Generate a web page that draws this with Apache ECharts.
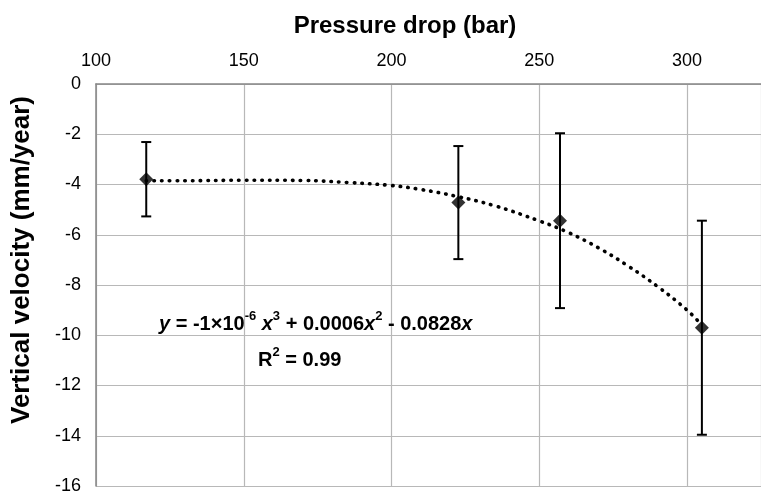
<!DOCTYPE html>
<html><head><meta charset="utf-8">
<script src="https://cdn.jsdelivr.net/npm/echarts@6/dist/echarts.min.js"></script>
<style>html,body{margin:0;padding:0;background:#fff}#c{width:761px;height:495px}</style>
</head><body><div id="c"></div>
<script>
// Measured points (Pressure drop, bar) vs (Vertical velocity, mm/year)
const pressure = [117, 222.6, 257, 305];
const velocity = [-3.79, -4.72, -5.44, -9.70];
const errorHalf = [1.48, 2.25, 3.48, 4.26];
// Dotted trendline
const trendX = [117, 130, 150, 170, 185, 200, 210, 222, 235, 250, 260, 270, 280, 290, 300, 305];
const trendY = [-3.85, -3.85, -3.83, -3.84, -3.92, -4.04, -4.2, -4.47, -4.85, -5.45, -5.92, -6.52, -7.24, -8.06, -9.0, -9.6];
const xTitle = 'Pressure drop (bar)';
const yTitle = 'Vertical velocity (mm/year)';
const eqText = '{i|y}{n| = -1×10}{s|-6}{n| }{i|x}{s|3}{n| + 0.0006}{i|x}{s|2}{n| - 0.0828}{i|x}';
const r2Text = '{n|R}{s|2}{n| = 0.99}';

const FF = '"Liberation Sans", Arial, sans-serif';
const chart = echarts.init(document.getElementById('c'), null, {renderer: 'canvas'});

const points = pressure.map((x, i) => [x, velocity[i]]);
const errData = pressure.map((x, i) => [x, velocity[i] - errorHalf[i], velocity[i] + errorHalf[i]]);
const trend = trendX.map((x, i) => [x, trendY[i]]);

const richStyle = {
  i: {fontStyle: 'italic', fontWeight: 'bold', fontSize: 20, fontFamily: FF, fill: '#000', verticalAlign: 'bottom', lineHeight: 24},
  s: {fontWeight: 'bold', fontSize: 13, fontFamily: FF, fill: '#000', verticalAlign: 'top', lineHeight: 24},
  n: {fontWeight: 'bold', fontSize: 20, fontFamily: FF, fill: '#000', verticalAlign: 'bottom', lineHeight: 24}
};

chart.setOption({
  animation: false,
  backgroundColor: '#fff',
  grid: {left: 96, top: 84, right: -10, bottom: 7.5, containLabel: false},
  xAxis: {
    type: 'value', position: 'top', min: 100, max: 325, interval: 50,
    axisLine: {show: true, onZero: false, lineStyle: {color: '#868686', width: 1.5}},
    axisTick: {show: false},
    axisLabel: {fontSize: 18, color: '#000', fontFamily: FF, margin: 14, showMaxLabel: false},
    splitLine: {show: true, lineStyle: {color: '#b8b8b8', width: 1.2}}
  },
  yAxis: {
    type: 'value', min: -16, max: 0, interval: 2,
    axisLine: {show: true, onZero: false, lineStyle: {color: '#868686', width: 1.5}},
    axisTick: {show: false},
    axisLabel: {fontSize: 18, color: '#000', fontFamily: FF, margin: 15},
    splitLine: {show: true, lineStyle: {color: '#b8b8b8', width: 1.2}}
  },
  graphic: [
    {type: 'text', x: 405, y: 26, style: {text: xTitle, font: 'bold 24px ' + FF, fill: '#000', align: 'center', verticalAlign: 'middle'}},
    {type: 'text', x: 22, y: 260, rotation: Math.PI / 2, style: {text: yTitle, font: 'bold 26px ' + FF, fill: '#000', align: 'center', verticalAlign: 'middle'}},
    {type: 'text', x: 159, y: 322, z: 100, style: {text: eqText, rich: richStyle, font: 'bold 20px ' + FF, fill: '#000', align: 'left', verticalAlign: 'middle'}},
    {type: 'text', x: 258, y: 358, z: 100, style: {text: r2Text, rich: richStyle, font: 'bold 20px ' + FF, fill: '#000', align: 'left', verticalAlign: 'middle'}}
  ],
  series: [
    {
      type: 'line', data: trend, smooth: 0.4, showSymbol: false, silent: true, z: 2,
      lineStyle: {color: '#000', width: 3.6, type: [0.5, 7.2], cap: 'round'}
    },
    {
      type: 'custom', data: errData, z: 3,
      renderItem: function (params, api) {
        const x = api.value(0);
        const lo = api.coord([x, api.value(1)]);
        const hi = api.coord([x, api.value(2)]);
        const cw = 5;
        const st = {stroke: '#000', lineWidth: 2};
        return {type: 'group', children: [
          {type: 'line', shape: {x1: lo[0], y1: lo[1], x2: hi[0], y2: hi[1]}, style: st},
          {type: 'line', shape: {x1: lo[0] - cw, y1: lo[1], x2: lo[0] + cw, y2: lo[1]}, style: st},
          {type: 'line', shape: {x1: hi[0] - cw, y1: hi[1], x2: hi[0] + cw, y2: hi[1]}, style: st}
        ]};
      }
    },
    {
      type: 'scatter', data: points, symbol: 'diamond', symbolSize: 14, z: 4,
      itemStyle: {color: '#000'}
    }
  ]
});
</script></body></html>
